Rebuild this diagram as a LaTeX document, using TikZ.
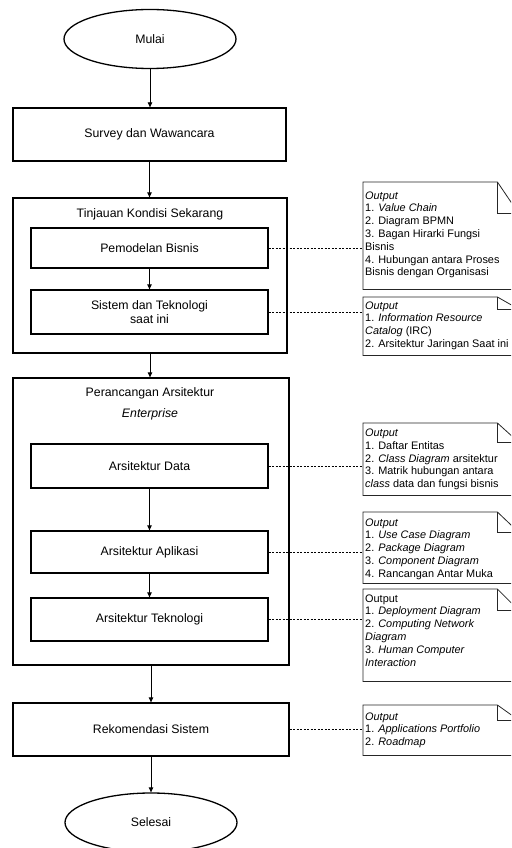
\documentclass[tikz,border=0pt]{standalone}
\usepackage{fontspec}
\setmainfont{Liberation Sans}
\usetikzlibrary{arrows.meta,shapes.geometric}

% text sizes for the flow boxes and for the output notes
\newcommand\mainsz{\fontsize{12.3}{14}\selectfont}
\newcommand\notesz{\fontsize{10.9}{12.8}\selectfont}

% an output note with a folded upper-right corner
% #1 name, #2 top, #3 bottom, #4 fold height, #5 first baseline, #6 lines
\newcommand\notebox[6]{%
  \node[notefrm, minimum height={#3pt-#2pt}] (#1) at (363,#2) {};
  \draw[noteline] (#1.north west) -- ([xshift=-21pt]#1.north east)
    -- ([yshift=-#4pt]#1.north east) -- (#1.south east)
    -- (#1.south west) -- cycle;
  \draw[noteline] ([xshift=-21pt]#1.north east) |- ([yshift=-#4pt]#1.north east);
  \node[notetext] (#1-txt) at (365,#5)
    {\begin{tabular}[t]{@{}l@{}}#6\end{tabular}};
}

\begin{document}
\begin{tikzpicture}[x=1pt,y=-1pt,
  proc/.style={draw, rectangle, line width=1.3pt, inner sep=0pt,
    align=center, font=\mainsz},
  frame/.style={draw, rectangle, line width=1.3pt, inner sep=0pt},
  term/.style={draw, ellipse, line width=1.3pt, inner sep=0pt,
    minimum width=172pt, minimum height=59pt, font=\mainsz},
  title/.style={inner sep=0pt, align=center, font=\mainsz},
  arr/.style={-{Triangle[length=5pt,width=4.5pt]}, line width=0.8pt},
  link/.style={dash pattern=on 2pt off 1.5pt, line width=0.7pt},
  notefrm/.style={rectangle, anchor=north west, inner sep=0pt,
    minimum width=155pt},
  noteline/.style={line width=0.8pt, draw=black!85},
  notetext/.style={anchor=base west, inner sep=0pt, font=\notesz},
]
\useasboundingbox (0,0) rectangle (511,848);
\clip (0,0) rectangle (511,848);

% main flow
\node[term] (mulai) at (150,39) {Mulai};
\node[proc, minimum width=273pt, minimum height=53pt] (survey)
  at (149.5,134.5) {Survey dan Wawancara};

\node[frame, minimum width=274pt, minimum height=155pt] (tinjauan)
  at (150,275.5) {};
\node[title] (tinjauan-t) at (150,214) {Tinjauan Kondisi Sekarang};
\node[proc, minimum width=237pt, minimum height=40pt] (bisnis)
  at (149.5,248) {Pemodelan Bisnis};
\node[proc, minimum width=237pt, minimum height=44pt] (sistem)
  at (149.5,312) {Sistem dan Teknologi\\[-0.5pt]saat ini};

\node[frame, minimum width=276pt, minimum height=287pt] (rancang)
  at (151,521.5) {};
\node[title] (rancang-t) at (150,403.5)
  {Perancangan Arsitektur\\[7pt]\textit{Enterprise}};
\node[proc, minimum width=237pt, minimum height=44pt] (data)
  at (149.5,466) {Arsitektur Data};
\node[proc, minimum width=237pt, minimum height=42pt] (aplikasi)
  at (149.5,552) {Arsitektur Aplikasi};
\node[proc, minimum width=237pt, minimum height=43pt] (teknologi)
  at (149.5,619.5) {Arsitektur Teknologi};

\node[proc, minimum width=276pt, minimum height=53pt] (rekom)
  at (151,729.5) {Rekomendasi Sistem};
\node[term] (selesai) at (151,822.5) {Selesai};

\draw[arr] (mulai.south) -- (mulai.south |- survey.north);
\draw[arr] (survey.south) -- (survey.south |- tinjauan.north);
\draw[arr] (bisnis.south) -- (bisnis.south |- sistem.north);
\draw[arr] (tinjauan.south) -- (tinjauan.south |- rancang.north);
\draw[arr] (data.south) -- (data.south |- aplikasi.north);
\draw[arr] (aplikasi.south) -- (aplikasi.south |- teknologi.north);
\draw[arr] (rancang.south) -- (rancang.south |- rekom.north);
\draw[arr] (rekom.south) -- (rekom.south |- selesai.north);

% output notes
\notebox{n1}{182}{289}{31}{199}{%
  \textit{Output}\\
  1. \textit{Value Chain}\\
  2. Diagram BPMN\\
  3. Bagan Hirarki Fungsi\\
  Bisnis\\
  4. Hubungan antara Proses\\
  Bisnis dengan Organisasi}
\notebox{n2}{297}{355}{12}{309}{%
  \textit{Output}\\
  1. \textit{Information Resource}\\
  \textit{Catalog} (IRC)\\
  2. Arsitektur Jaringan Saat ini}
\notebox{n3}{423}{495}{19}{436.5}{%
  \textit{Output}\\
  1. Daftar Entitas\\
  2. \textit{Class Diagram} arsitektur\\
  3. Matrik hubungan antara\\
  \textit{class} data dan fungsi bisnis}
\notebox{n4}{512}{583}{20}{526}{%
  \textit{Output}\\
  1. \textit{Use Case Diagram}\\
  2. \textit{Package Diagram}\\
  3. \textit{Component Diagram}\\
  4. Rancangan Antar Muka}
\notebox{n5}{589}{681}{21}{602}{%
  Output\\
  1. \textit{Deployment Diagram}\\
  2. \textit{Computing Network}\\
  \textit{Diagram}\\
  3. \textit{Human Computer}\\
  \textit{Interaction}}
\notebox{n6}{705}{755}{15}{720}{%
  \textit{Output}\\
  1. \textit{Applications Portfolio}\\
  2. \textit{Roadmap}}

% links from the steps to their outputs
\draw[link] (bisnis.east) -- (bisnis.east -| n1.west);
\draw[link] (sistem.east) -- (sistem.east -| n2.west);
\draw[link] (data.east) -- (data.east -| n3.west);
\draw[link] (aplikasi.east) -- (aplikasi.east -| n4.west);
\draw[link] (teknologi.east) -- (teknologi.east -| n5.west);
\draw[link] (rekom.east) -- (rekom.east -| n6.west);
\end{tikzpicture}
\end{document}
